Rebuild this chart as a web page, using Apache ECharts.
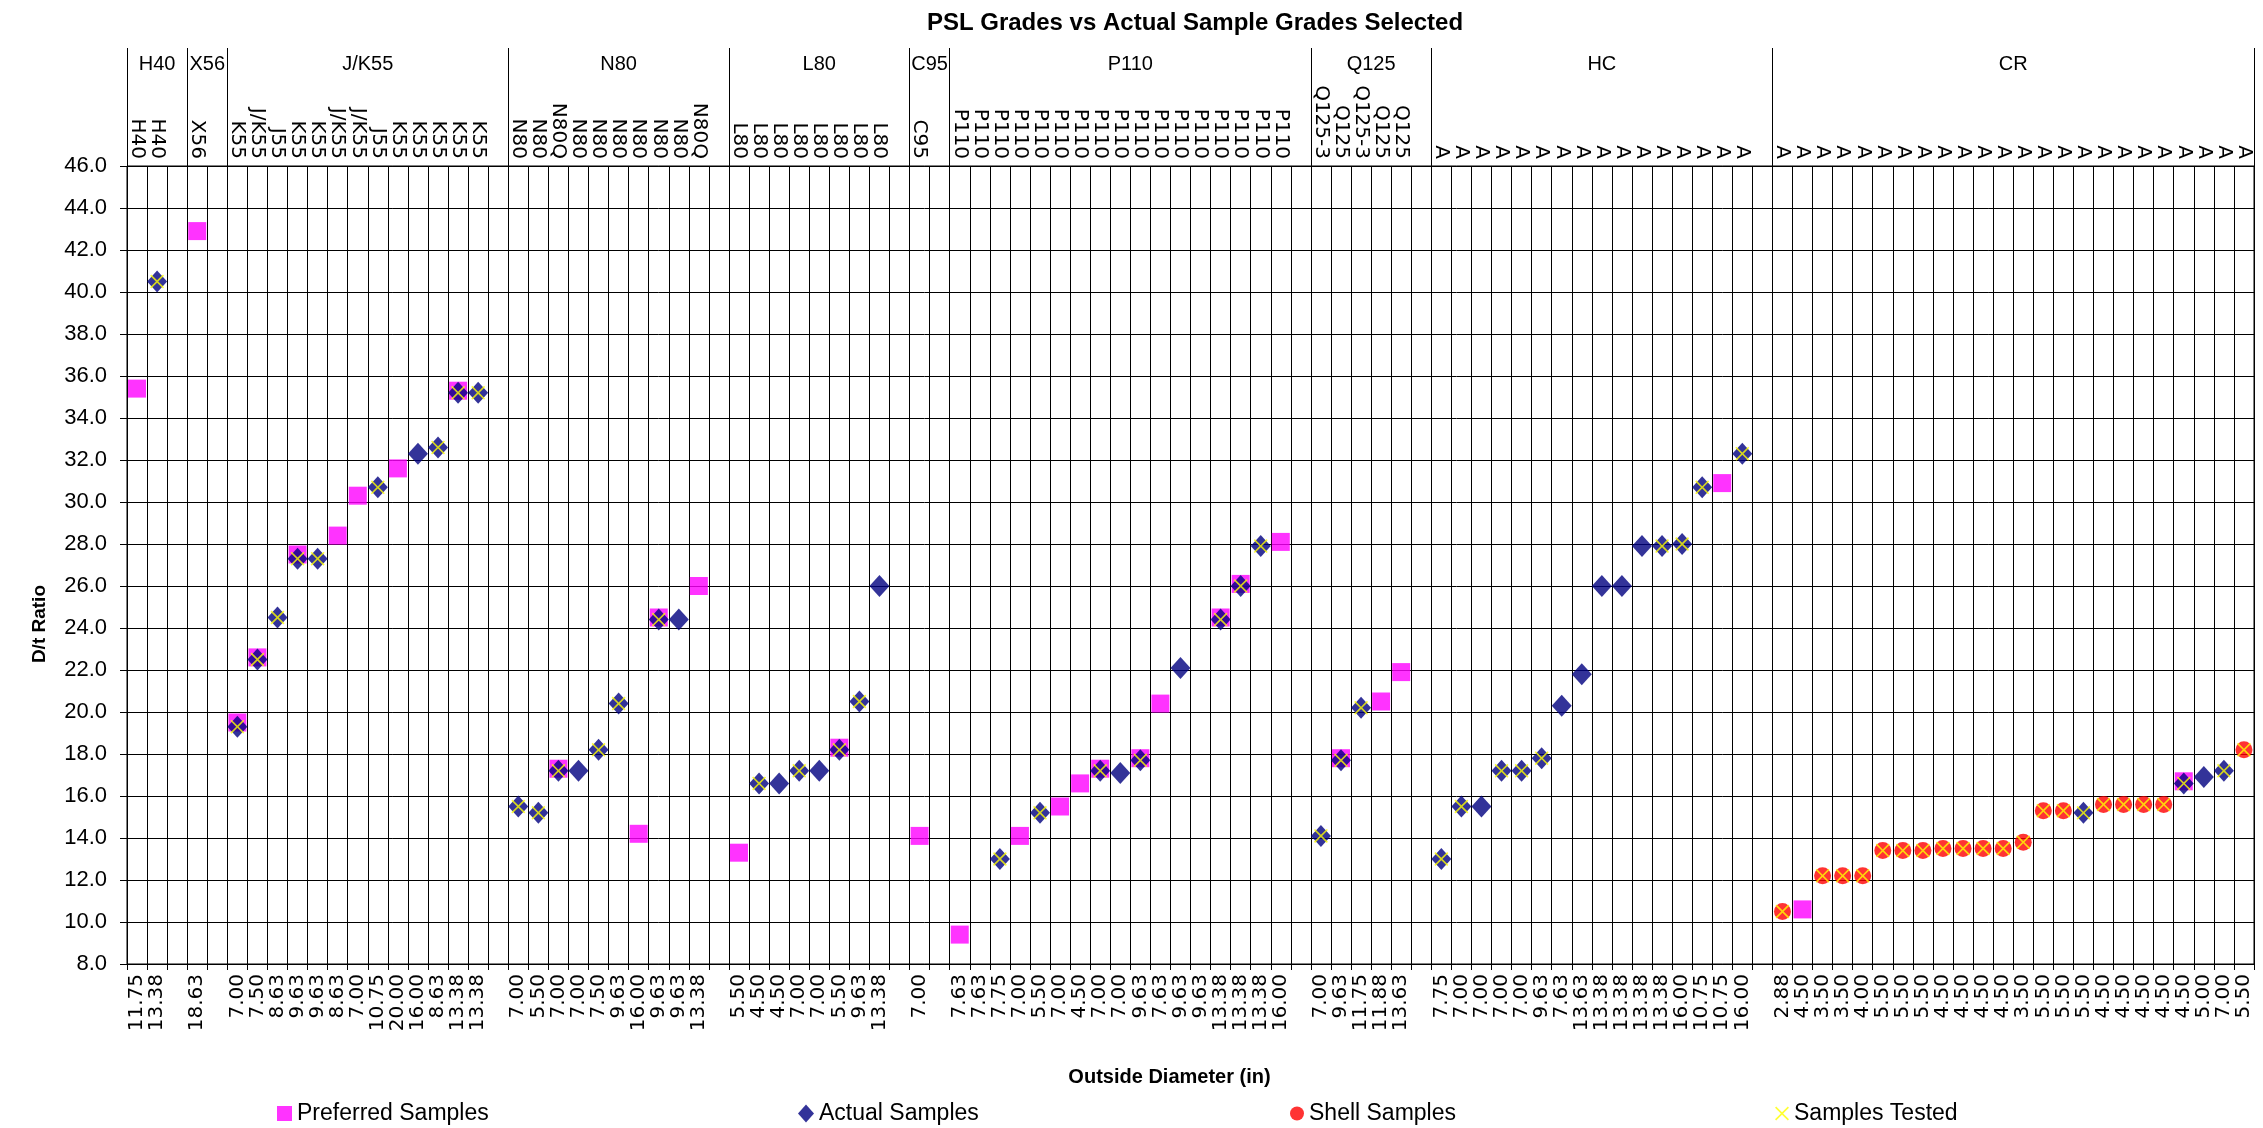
<!DOCTYPE html>
<html><head><meta charset="utf-8">
<script src="https://cdn.jsdelivr.net/npm/echarts@6/dist/echarts.min.js"></script>
<style>html,body{margin:0;padding:0;background:#fff}#c{width:2263px;height:1128px}</style>
</head><body><div id="c"></div>
<script>
// ---- DATA (per grade group) ----
const groupNames = ['H40','X56','J/K55','N80','L80','C95','P110','Q125','HC','CR'];

const H40_grade = ['H40','H40'];
const H40_od    = ['11.75','13.38'];
const H40_pref  = [35.4, null];
const H40_act   = [null, 40.5];
const H40_shell = [null, null];
const H40_test  = [null, 40.5];

const X56_grade = ['X56'];
const X56_od    = ['18.63'];
const X56_pref  = [42.9];
const X56_act   = [null];
const X56_shell = [null];
const X56_test  = [null];

const JK55_grade = ['K55','J/K55','J55','K55','K55','J/K55','J/K55','J55','K55','K55','K55','K55','K55'];
const JK55_od    = ['7.00','7.50','8.63','9.63','9.63','8.63','7.00','10.75','20.00','16.00','8.63','13.38','13.38'];
const JK55_pref  = [19.5,22.6,null,27.5,null,28.4,30.3,null,31.6,null,null,35.3,null];
const JK55_act   = [19.3,22.5,24.5,27.3,27.3,null,null,30.7,null,32.3,32.6,35.2,35.2];
const JK55_shell = [null,null,null,null,null,null,null,null,null,null,null,null,null];
const JK55_test  = [19.3,22.5,24.5,27.3,27.3,null,null,30.7,null,null,32.6,35.2,35.2];

const N80_grade = ['N80','N80','N80Q','N80','N80','N80','N80','N80','N80','N80Q'];
const N80_od    = ['7.00','5.50','7.00','7.00','7.50','9.63','16.00','9.63','9.63','13.38'];
const N80_pref  = [null,null,17.3,null,null,null,14.2,24.5,null,26.0];
const N80_act   = [15.5,15.2,17.2,17.2,18.2,20.4,null,24.4,24.4,null];
const N80_shell = [null,null,null,null,null,null,null,null,null,null];
const N80_test  = [15.5,15.2,17.2,null,18.2,20.4,null,24.4,null,null];

const L80_grade = ['L80','L80','L80','L80','L80','L80','L80','L80'];
const L80_od    = ['5.50','4.50','4.50','7.00','7.00','5.50','9.63','13.38'];
const L80_pref  = [13.3,null,null,null,null,18.3,null,null];
const L80_act   = [null,16.6,16.6,17.2,17.2,18.2,20.5,26.0];
const L80_shell = [null,null,null,null,null,null,null,null];
const L80_test  = [null,16.6,null,17.2,null,18.2,20.5,null];

const C95_grade = ['C95'];
const C95_od    = ['7.00'];
const C95_pref  = [14.1];
const C95_act   = [null];
const C95_shell = [null];
const C95_test  = [null];

const P110_grade = ['P110','P110','P110','P110','P110','P110','P110','P110','P110','P110','P110','P110','P110','P110','P110','P110','P110'];
const P110_od    = ['7.63','7.63','7.75','7.00','5.50','7.00','4.50','7.00','7.00','9.63','7.63','9.63','9.63','13.38','13.38','13.38','16.00'];
const P110_pref  = [9.4,null,null,14.1,null,15.5,16.6,17.3,null,17.8,20.4,null,null,24.5,26.1,null,28.1];
const P110_act   = [null,null,13.0,null,15.2,null,null,17.2,17.1,17.7,null,22.1,null,24.4,26.0,27.9,null];
const P110_shell = [null,null,null,null,null,null,null,null,null,null,null,null,null,null,null,null,null];
const P110_test  = [null,null,13.0,null,15.2,null,null,17.2,null,17.7,null,null,null,24.4,26.0,27.9,null];

const Q125_grade = ['Q125-3','Q125','Q125-3','Q125','Q125'];
const Q125_od    = ['7.00','9.63','11.75','11.88','13.63'];
const Q125_pref  = [null,17.8,null,20.5,21.9];
const Q125_act   = [14.1,17.7,20.2,null,null];
const Q125_shell = [null,null,null,null,null];
const Q125_test  = [14.1,17.7,20.2,null,null];

const HC_grade = ['A','A','A','A','A','A','A','A','A','A','A','A','A','A','A','A'];
const HC_od    = ['7.75','7.00','7.00','7.00','7.00','9.63','7.63','13.63','13.38','13.38','13.38','13.38','16.00','10.75','10.75','16.00'];
const HC_pref  = [null,null,null,null,null,null,null,null,null,null,null,null,null,null,30.9,null];
const HC_act   = [13.0,15.5,15.5,17.2,17.2,17.8,20.3,21.8,26.0,26.0,27.9,27.9,28.0,30.7,null,32.3];
const HC_shell = [null,null,null,null,null,null,null,null,null,null,null,null,null,null,null,null];
const HC_test  = [13.0,15.5,null,17.2,17.2,17.8,null,null,null,null,null,27.9,28.0,30.7,null,32.3];

const CR_grade = ['A','A','A','A','A','A','A','A','A','A','A','A','A','A','A','A','A','A','A','A','A','A','A','A'];
const CR_od    = ['2.88','4.50','3.50','3.50','4.00','5.50','5.50','5.50','4.50','4.50','4.50','4.50','3.50','5.50','5.50','5.50','4.50','4.50','4.50','4.50','4.50','5.00','7.00','5.50'];
const CR_pref  = [null,10.6,null,null,null,null,null,null,null,null,null,null,null,null,null,null,null,null,null,null,16.7,null,null,null];
const CR_act   = [null,null,null,null,null,null,null,null,null,null,null,null,null,null,null,15.2,null,null,null,null,16.6,16.9,17.2,null];
const CR_shell = [10.5,null,12.2,12.2,12.2,13.4,13.4,13.4,13.5,13.5,13.5,13.5,13.8,15.3,15.3,null,15.6,15.6,15.6,15.6,null,null,null,18.2];
const CR_test  = [10.5,null,12.2,12.2,12.2,13.4,13.4,13.4,13.5,13.5,13.5,13.5,13.8,15.3,15.3,15.2,15.6,15.6,15.6,15.6,16.6,null,17.2,18.2];

const yMin = 8, yMax = 46, yStep = 2;

// ---- assemble (a blank category separates groups) ----
const groups = [
  [H40_grade,H40_od,H40_pref,H40_act,H40_shell,H40_test],
  [X56_grade,X56_od,X56_pref,X56_act,X56_shell,X56_test],
  [JK55_grade,JK55_od,JK55_pref,JK55_act,JK55_shell,JK55_test],
  [N80_grade,N80_od,N80_pref,N80_act,N80_shell,N80_test],
  [L80_grade,L80_od,L80_pref,L80_act,L80_shell,L80_test],
  [C95_grade,C95_od,C95_pref,C95_act,C95_shell,C95_test],
  [P110_grade,P110_od,P110_pref,P110_act,P110_shell,P110_test],
  [Q125_grade,Q125_od,Q125_pref,Q125_act,Q125_shell,Q125_test],
  [HC_grade,HC_od,HC_pref,HC_act,HC_shell,HC_test],
  [CR_grade,CR_od,CR_pref,CR_act,CR_shell,CR_test]
];
const gradeCats = [], odCats = [], pref = [], act = [], shell = [], test = [];
const bounds = [0];
groups.forEach((g, gi) => {
  for (let i = 0; i < g[0].length; i++) {
    gradeCats.push(g[0][i]); odCats.push(g[1][i]);
    pref.push(g[2][i] == null ? '-' : g[2][i]);
    act.push(g[3][i] == null ? '-' : g[3][i]);
    shell.push(g[4][i] == null ? '-' : g[4][i]);
    test.push(g[5][i] == null ? '-' : g[5][i]);
  }
  if (gi < groups.length - 1) {
    gradeCats.push(''); odCats.push(''); pref.push('-'); act.push('-'); shell.push('-'); test.push('-');
  }
  bounds.push(gradeCats.length);
});
const nCats = gradeCats.length;
const mids = [];
for (let i = 0; i < groupNames.length; i++) mids.push((bounds[i] + bounds[i + 1]) / 2);

const FONT = 'Liberation Sans, Arial, sans-serif';
const VFONT = 'DejaVu Sans, Verdana, sans-serif';
const X_PATH = 'path://M0,1 L1,0 L6,5 L11,0 L12,1 L7,6 L12,11 L11,12 L6,7 L1,12 L0,11 L5,6 Z';
const legendText = {fontSize: 23, fontFamily: FONT, color: '#000'};

const chart = echarts.init(document.getElementById('c'), null, {renderer: 'canvas'});
chart.setOption({
  backgroundColor: '#ffffff',
  animation: false,
  textStyle: {fontFamily: FONT, color: '#000'},
  title: {
    text: 'PSL Grades vs Actual Sample Grades Selected',
    left: 1190, top: 6, textAlign: 'center',
    textStyle: {fontFamily: FONT, fontSize: 24, fontWeight: 'bold', color: '#000'}
  },
  graphic: [{
    type: 'text', left: 30, top: 585, rotation: Math.PI / 2,
    style: {text: 'D/t Ratio', font: 'bold 19px ' + FONT, fill: '#000'}
  }],
  grid: {left: 127, right: 9, top: 166, bottom: 164, show: true, borderColor: '#000', borderWidth: 1},
  legend: [
    {data: ['Preferred Samples'], left: 272, top: 1097, itemWidth: 15, itemHeight: 15, itemGap: 4, textStyle: legendText},
    {data: ['Actual Samples'], left: 793, top: 1097, itemWidth: 16, itemHeight: 18, itemGap: 4, textStyle: legendText},
    {data: ['Shell Samples'], left: 1285, top: 1097, itemWidth: 14, itemHeight: 14, itemGap: 4, textStyle: legendText},
    {data: ['Samples Tested'], left: 1770, top: 1097, itemWidth: 14, itemHeight: 14, itemGap: 4, textStyle: legendText}
  ],
  xAxis: [
    {
      type: 'category', data: odCats, position: 'bottom', boundaryGap: true,
      name: 'Outside Diameter (in)', nameLocation: 'middle', nameGap: 103,
      nameTextStyle: {fontFamily: FONT, fontSize: 20, fontWeight: 'bold', color: '#000', padding: [0, 42, 0, 0]},
      axisLine: {show: true, lineStyle: {color: '#000', width: 1}},
      axisTick: {show: true, interval: 0, length: 6, lineStyle: {color: '#000'}},
      axisLabel: {interval: 0, rotate: 90, margin: 10, fontSize: 20, fontFamily: VFONT, color: '#000'},
      splitLine: {show: true, interval: 0, lineStyle: {color: '#000', width: 1}}
    },
    {
      type: 'category', data: gradeCats, position: 'top', boundaryGap: true,
      axisLine: {show: true, lineStyle: {color: '#000', width: 1}},
      axisTick: {show: false},
      axisLabel: {interval: 0, rotate: 90, margin: 7, fontSize: 20, fontFamily: VFONT, color: '#000'},
      splitLine: {show: false}
    },
    {
      type: 'value', position: 'top', min: 0, max: nCats,
      axisLine: {show: false},
      axisTick: {show: true, customValues: bounds, length: 118, lineStyle: {color: '#000', width: 1}},
      axisLabel: {show: true, customValues: mids, margin: 92, fontSize: 20, fontFamily: FONT, color: '#000',
        formatter: function (v) { const i = mids.indexOf(v); return i >= 0 ? groupNames[i] : ''; }},
      splitLine: {show: false}
    }
  ],
  yAxis: {
    type: 'value', min: yMin, max: yMax, interval: yStep,
    axisLine: {show: true, lineStyle: {color: '#000', width: 1}},
    axisTick: {show: true, length: 7, lineStyle: {color: '#000'}},
    axisLabel: {margin: 20, fontSize: 22, fontFamily: FONT, color: '#000', formatter: v => v.toFixed(1)},
    splitLine: {show: true, lineStyle: {color: '#000', width: 1}}
  },
  series: [
    {name: 'Preferred Samples', type: 'scatter', xAxisIndex: 0, data: pref, symbol: 'rect', symbolSize: 18,
      itemStyle: {color: '#FF00FF'}},
    {name: 'Actual Samples', type: 'scatter', xAxisIndex: 0, data: act, symbol: 'diamond', symbolSize: [20, 22],
      itemStyle: {color: '#000080'}},
    {name: 'Shell Samples', type: 'scatter', xAxisIndex: 0, data: shell, symbol: 'circle', symbolSize: 17,
      itemStyle: {color: '#FF0000'}},
    {name: 'Samples Tested', type: 'scatter', xAxisIndex: 0, data: test, symbol: X_PATH, symbolSize: 14,
      itemStyle: {color: '#FFFF00'}}
  ]
});
</script></body></html>
